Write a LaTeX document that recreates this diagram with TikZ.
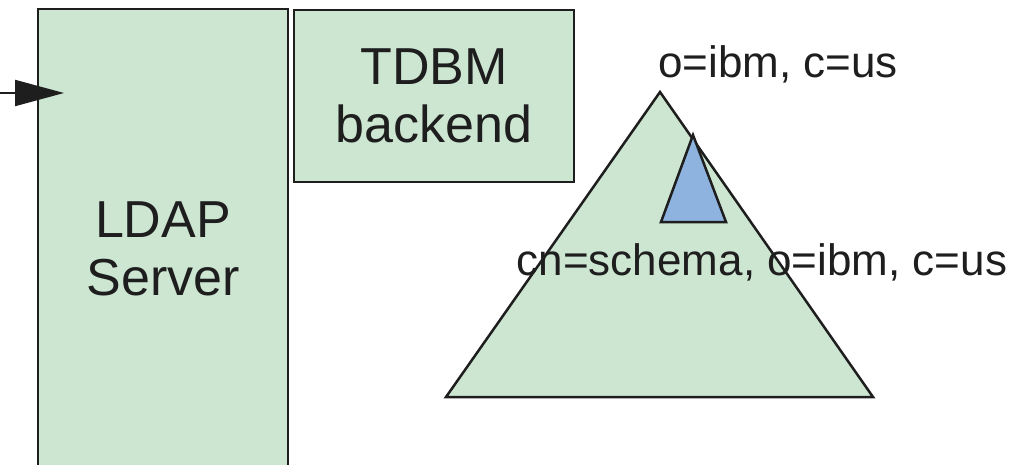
\documentclass[tikz,border=0pt]{standalone}
\usepackage{fontspec}
\setmainfont{Liberation Sans}
\usetikzlibrary{arrows.meta,positioning}
\definecolor{boxgreen}{RGB}{205,230,210}
\definecolor{schemablue}{RGB}{141,179,222}
\definecolor{edgegray}{RGB}{30,30,30}
\tikzset{
    blocknode/.style = {
        align=center,
        rectangle,
        fill=boxgreen,
        draw=edgegray,
        line width=2.5pt,
        text=edgegray,
        font=\fontsize{52}{58}\selectfont,
        inner sep=0pt,
        outer sep=0pt
    },
    dnlabel/.style = {
        text=edgegray,
        font=\fontsize{44}{50}\selectfont,
        inner sep=0pt
    },
    treeshape/.style = {
        fill=boxgreen,
        draw=edgegray,
        line width=2.5pt,
        line join=miter
    },
    subtreeshape/.style = {
        treeshape,
        fill=schemablue
    }
}

\begin{document}
\begin{tikzpicture}[x=1pt, y=-1pt]
    \clip (0,0) rectangle (1024,465);
    \node [blocknode, minimum width=250pt, minimum height=480pt, anchor=north west] (ldap) at (38,9) {LDAP\\Server};
    \node [blocknode, minimum width=280pt, minimum height=172pt, anchor=north west] (tdbm) at (294,10) {TDBM\\backend};
    % request arrow
    \coordinate (client) at (0,93);
    \coordinate (entry) at (64,93);
    \draw [draw=edgegray, line width=2pt, -{Triangle[length=49pt, width=26pt]}] (client) -- (entry);
    % directory tree
    \coordinate (root) at (660,92);
    \coordinate (rootleft) at (446,397);
    \coordinate (rootright) at (873,397);
    \draw [treeshape] (root) -- (rootleft) -- (rootright) -- cycle;
    \coordinate (schema) at (693,135);
    \coordinate (schemaleft) at (661,222);
    \coordinate (schemaright) at (726,222);
    \draw [subtreeshape] (schema) -- (schemaleft) -- (schemaright) -- cycle;
    \node [dnlabel] (rootdn) at (778,64) {o=ibm, c=us};
    \node [dnlabel] (schemadn) at (762,262) {cn=schema, o=ibm, c=us};
\end{tikzpicture}
\end{document}
